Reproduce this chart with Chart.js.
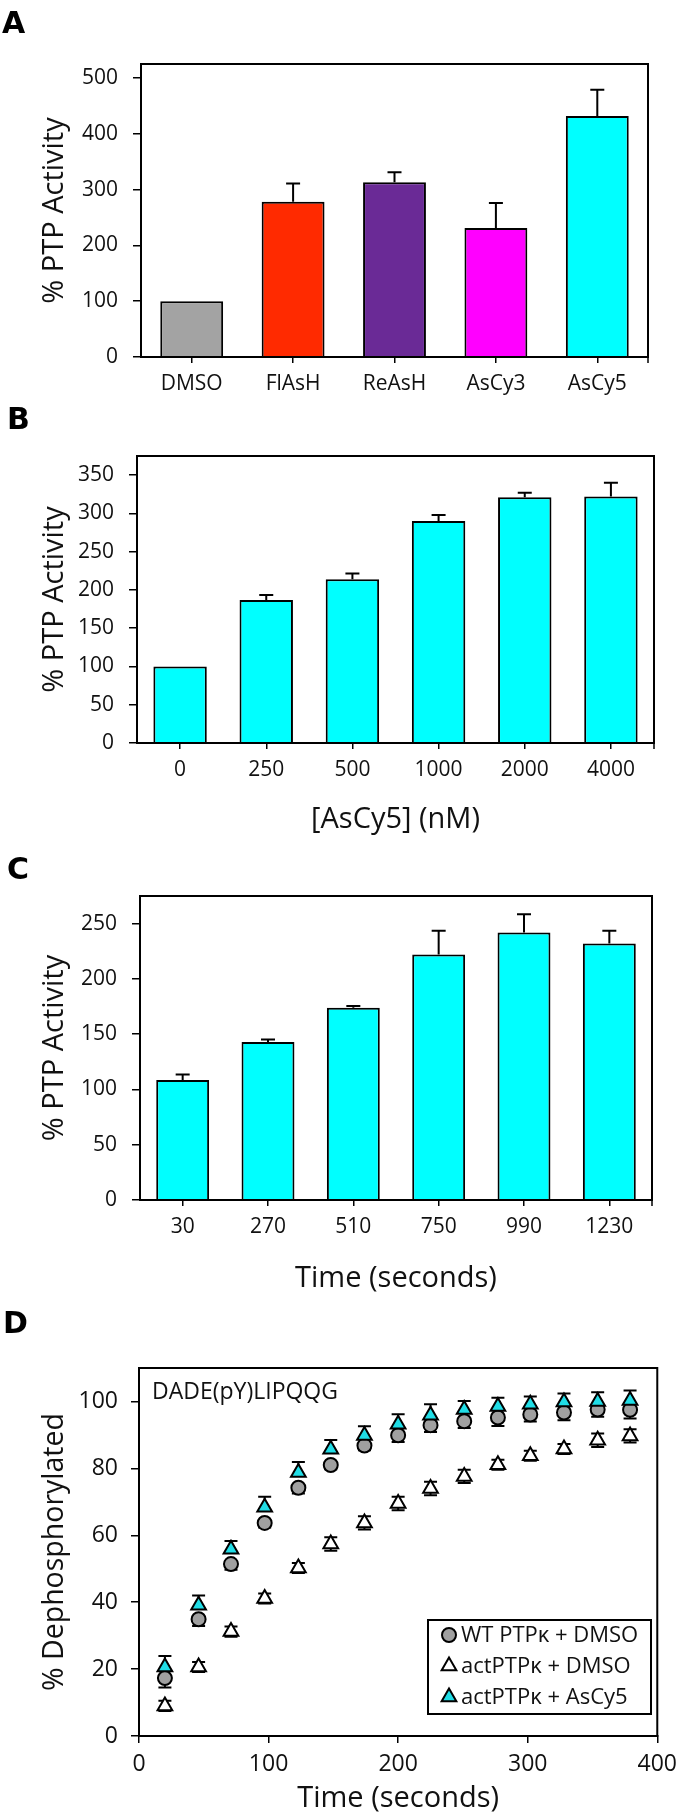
<!DOCTYPE html>
<html><head><meta charset="utf-8">
<script src="https://cdn.jsdelivr.net/npm/chart.js@4.4.1/dist/chart.umd.min.js"></script>
<style>
html,body{margin:0;padding:0;background:#fff;}
body{width:685px;height:1815px;position:relative;overflow:hidden;}
.pl{position:absolute;font:bold 30px "DejaVu Sans",Arial,sans-serif;color:#000;line-height:1;z-index:2;}
canvas{position:absolute;left:0;}
</style></head><body>
<div class="pl" style="left:2px;top:8px">A</div>
<div class="pl" style="left:7px;top:404px">B</div>
<div class="pl" style="left:7px;top:854px">C</div>
<div class="pl" style="left:3px;top:1308px">D</div>
<canvas id="cA" width="685" height="400" style="top:0px"></canvas>
<canvas id="cB" width="685" height="440" style="top:400px"></canvas>
<canvas id="cC" width="685" height="460" style="top:840px"></canvas>
<canvas id="cD" width="685" height="515" style="top:1300px"></canvas>
<script>
// ---------- DATA ----------
const catsA = ['DMSO', 'FlAsH', 'ReAsH', 'AsCy3', 'AsCy5'];
const valsA = [100, 278, 313, 231, 432];
const errA = [0, 33, 18, 45, 47];
const colorsA = ['#a3a3a3', '#ff2a00', '#6a2a96', '#ff00ff', '#00ffff'];

const catsB = ['0', '250', '500', '1000', '2000', '4000'];
const valsB = [100, 187, 214, 290, 321, 322];
const errB = [0, 6.5, 7.5, 8, 6, 18];
const titleB = '[AsCy5] (nM)';

const catsC = ['30', '270', '510', '750', '990', '1230'];
const valsC = [108.5, 143, 174, 222, 242, 232];
const errC = [5, 2.3, 1.5, 21.5, 16.5, 11.5];
const titleC = 'Time (seconds)';

const timeD = [20, 46, 71, 97, 123, 148, 174, 200, 225, 251, 277, 302, 328, 354, 379];
const wtD = [17.3, 34.9, 51.4, 63.7, 74.2, 81.0, 86.8, 89.9, 92.9, 94.1, 95.2, 96.1, 96.7, 97.6, 97.5];
const wtErrD = [2.8, 2.0, 1.7, 1.4, 1.7, 1.3, 1.4, 2.0, 2.0, 2.0, 2.5, 2.1, 2.3, 2.2, 2.6];
const actD = [9.0, 20.6, 31.2, 41.1, 50.2, 57.4, 63.7, 69.5, 74.0, 77.6, 81.1, 83.8, 85.8, 88.4, 89.7];
const actErrD = [1.5, 1.5, 1.5, 1.5, 1.5, 2, 2, 2, 2, 2, 1.5, 1.5, 1.5, 2, 2];
const cyD = [20.6, 39.1, 55.8, 68.4, 78.8, 85.7, 89.8, 93.2, 95.9, 97.6, 98.5, 99.2, 99.8, 100.0, 100.3];
const cyErrD = [3.3, 2.9, 2.5, 3.1, 3.1, 2.8, 2.8, 3.0, 3.3, 2.5, 2.6, 2.3, 2.6, 2.75, 3.0];
const labelsD = ['WT PTP\u03ba + DMSO', 'actPTP\u03ba + DMSO', 'actPTP\u03ba + AsCy5'];
const noteD = 'DADE(pY)LIPQQG';
const titleD = 'Time (seconds)';
const yTitleABC = '% PTP Activity';
const yTitleD = '% Dephosphorylated';

// ---------- PLUGINS ----------
const FONT = '"Open Sans", Lato, sans-serif';
const INK = '#111';
const errorBarPlugin = {
  id: 'errbars',
  beforeDatasetDraw(chart, args) {
    const ds = chart.data.datasets[args.index];
    if (!ds.errPlus && !ds.errMinus) return;
    const meta = args.meta;
    const yS = chart.scales[meta.yAxisID];
    const ctx = chart.ctx;
    const cap = ds.errCap || 7;
    ctx.save();
    ctx.strokeStyle = '#000';
    ctx.lineWidth = 2;
    meta.data.forEach((el, i) => {
      const d = ds.data[i];
      const v = (typeof d === 'object') ? d.y : d;
      const x = el.x;
      const seg = (e, s) => {
        if (!e) return;
        const y0 = yS.getPixelForValue(v), y1 = yS.getPixelForValue(v + s * e);
        ctx.beginPath();
        ctx.moveTo(x, y0); ctx.lineTo(x, y1);
        ctx.moveTo(x - cap, y1); ctx.lineTo(x + cap, y1);
        ctx.stroke();
      };
      if (ds.errPlus) seg(ds.errPlus[i], 1);
      if (ds.errMinus) seg(ds.errMinus[i], -1);
    });
    ctx.restore();
  }
};
const framePlugin = {
  id: 'frame',
  afterDraw(chart, args, opts) {
    const {ctx, chartArea: a} = chart;
    ctx.save();
    ctx.strokeStyle = '#000';
    ctx.lineWidth = 2;
    ctx.strokeRect(a.left, a.top, a.right - a.left, a.bottom - a.top);
    if (opts && opts.endTick) {
      ctx.lineWidth = 1.5;
      ctx.beginPath();
      ctx.moveTo(a.right, a.bottom);
      ctx.lineTo(a.right, a.bottom + 6);
      ctx.stroke();
    }
    ctx.restore();
  }
};

function barChart(id, cats, vals, errs, colors, yMax, yStep, box, cTop, cH, xTitle, xTitlePad) {
  return new Chart(document.getElementById(id), {
    type: 'bar',
    data: {labels: cats, datasets: [{
      data: vals, backgroundColor: colors, borderColor: '#000', borderWidth: 2,
      barPercentage: 0.62, categoryPercentage: 1, errPlus: errs, errCap: 7
    }]},
    options: {
      responsive: false, animation: false, devicePixelRatio: 1,
      layout: {padding: {top: box.top - cTop, right: 685 - box.right, left: 0, bottom: 0}},
      plugins: {legend: {display: false}, tooltip: {enabled: false}, frame: {endTick: true}},
      scales: {
        x: {
          grid: {offset: false, drawOnChartArea: false, drawTicks: true, tickLength: 6, color: '#000', lineWidth: 1.5},
          border: {display: true, color: '#000', width: 2},
          ticks: {color: INK, font: {family: FONT, size: 21}, padding: 8, maxRotation: 0, autoSkip: false},
          title: xTitle ? {display: true, text: xTitle, color: INK, font: {family: FONT, size: 29, lineHeight: 1.2}, padding: {top: 0, bottom: xTitlePad}} : {display: false},
          afterFit(s) { s.height = cTop + cH - box.bottom; }
        },
        y: {
          min: 0, max: yMax,
          grid: {drawOnChartArea: false, drawTicks: true, tickLength: 8, color: '#000', lineWidth: 1.5},
          border: {display: true, color: '#000', width: 2},
          ticks: {stepSize: yStep, includeBounds: false, color: INK, font: {family: FONT, size: 21}, padding: 15},
          title: {display: true, text: yTitleABC, color: INK, font: {family: FONT, size: 29, lineHeight: 1.2}, padding: {top: 37, bottom: 0}},
          afterFit(s) { s.width = box.left; }
        }
      }
    },
    plugins: [errorBarPlugin, framePlugin]
  });
}

barChart('cA', catsA, valsA, errA, colorsA, 525, 100, {left: 141, right: 648, top: 64, bottom: 357}, 0, 400, null, 0);
barChart('cB', catsB, valsB, errB, '#00ffff', 375, 50, {left: 137, right: 654, top: 456, bottom: 743}, 400, 440, titleB, 3);
barChart('cC', catsC, valsC, errC, '#00ffff', 275, 50, {left: 140, right: 652, top: 896, bottom: 1200}, 840, 460, titleC, 4);

// ---------- PANEL D ----------
const legendPlugin = {
  id: 'dlegend',
  afterDraw(chart) {
    const ctx = chart.ctx;
    ctx.save();
    ctx.fillStyle = INK;
    ctx.font = '23px ' + FONT;
    ctx.textBaseline = 'middle';
    ctx.textAlign = 'left';
    ctx.fillText(noteD, 152, 92);
    ctx.strokeStyle = '#000';
    ctx.lineWidth = 2;
    ctx.strokeRect(428, 320, 223, 94);
    const rows = [335, 366, 397];
    chart.data.datasets.forEach((ds, i) => {
      const y = rows[i], x = 449;
      ctx.beginPath();
      if (ds.pointStyle === 'circle') {
        ctx.arc(x, y, 7, 0, Math.PI * 2);
      } else {
        const r = 8.5;
        ctx.moveTo(x, y - r);
        ctx.lineTo(x + r * Math.sin(2 * Math.PI / 3), y - r * Math.cos(2 * Math.PI / 3));
        ctx.lineTo(x + r * Math.sin(4 * Math.PI / 3), y - r * Math.cos(4 * Math.PI / 3));
        ctx.closePath();
      }
      ctx.fillStyle = ds.pointBackgroundColor;
      ctx.fill();
      ctx.lineWidth = 2;
      ctx.strokeStyle = '#000';
      ctx.stroke();
      ctx.fillStyle = INK;
      ctx.font = '22px ' + FONT;
      ctx.fillText(ds.label, 461, y + 1);
    });
    ctx.restore();
  }
};

const pts = (ys) => timeD.map((t, i) => ({x: t, y: ys[i]}));
new Chart(document.getElementById('cD'), {
  type: 'scatter',
  data: {datasets: [
    {label: labelsD[0], data: pts(wtD), pointStyle: 'circle', pointRadius: 7, pointBackgroundColor: '#a0a0a0', pointBorderColor: '#000', pointBorderWidth: 2, errMinus: wtErrD, errCap: 6.5, order: 2},
    {label: labelsD[1], data: pts(actD), pointStyle: 'triangle', pointRadius: 8.5, pointBackgroundColor: '#ffffff', pointBorderColor: '#000', pointBorderWidth: 2, errPlus: actErrD, errMinus: actErrD, errCap: 6.5, order: 3},
    {label: labelsD[2], data: pts(cyD), pointStyle: 'triangle', pointRadius: 8.5, pointBackgroundColor: '#20dde6', pointBorderColor: '#000', pointBorderWidth: 2, errPlus: cyErrD, errCap: 6.5, order: 1}
  ]},
  options: {
    responsive: false, animation: false, devicePixelRatio: 1,
    layout: {padding: {top: 1368 - 1300, right: 685 - 665, left: 0, bottom: 0}},
    plugins: {legend: {display: false}, tooltip: {enabled: false}},
    scales: {
      x: {
        type: 'linear', min: 0, max: 400,
        grid: {drawOnChartArea: false, drawTicks: true, tickLength: 7, color: '#000', lineWidth: 1.5},
        border: {display: true, color: '#000', width: 2},
        ticks: {stepSize: 100, color: INK, font: {family: FONT, size: 23}, padding: 8, maxRotation: 0},
        title: {display: true, text: titleD, color: INK, font: {family: FONT, size: 29, lineHeight: 1.1}, padding: {top: 0, bottom: 0}},
        afterFit(s) { s.height = 1815 - 1736; }
      },
      y: {
        min: 0, max: 110,
        grid: {drawOnChartArea: false, drawTicks: true, tickLength: 8, color: '#000', lineWidth: 1.5},
        border: {display: true, color: '#000', width: 2},
        ticks: {stepSize: 20, includeBounds: false, color: INK, font: {family: FONT, size: 23}, padding: 13},
        title: {display: true, text: yTitleD, color: INK, font: {family: FONT, size: 28.5, lineHeight: 1.2}, padding: {top: 38, bottom: 0}},
        afterFit(s) { s.width = 139; }
      }
    }
  },
  plugins: [errorBarPlugin, framePlugin, legendPlugin]
});
</script>
</body></html>
